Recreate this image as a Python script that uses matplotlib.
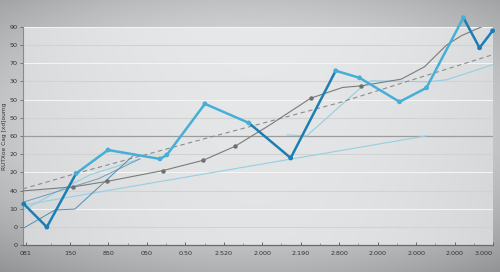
import matplotlib
matplotlib.use("Agg")
import matplotlib.pyplot as plt
import numpy as np

# tick labels as printed on the chart
x_labels = ["081", "150", "850", "050", "0.50", "2.520", "2.000", "2.190",
            "2.800", "2.000", "2.000", "2.000", "3.000"]
x_label_pos = [-0.14, 1, 2, 3, 4, 5, 6, 7, 8, 9, 10, 11, 12]
y_labels = ["0", "0", "10", "40", "20", "20", "60", "50", "50", "30", "70", "50", "90"]
y_label_pos = list(range(13))

# main series (thick, alternating dark / bright blue)
main_x = [-0.20, 0.40, 1.16, 1.99, 3.34, 3.52, 4.51, 5.65, 6.74, 7.91, 8.53, 9.57, 10.27, 11.23, 11.65, 11.99]
main_y = [2.26, 0.99, 3.94, 5.23, 4.74, 4.96, 7.77, 6.72, 4.79, 9.59, 9.20, 7.88, 8.65, 12.51, 10.85, 11.79]
main_dark = [1, 1, 0, 0, 0, 0, 0, 1, 1, 0, 0, 0, 0, 1, 1]   # per segment

# grey solid trend
grey_x = [-0.22, 1.08, 1.96, 3.42, 4.46, 5.29, 6.20, 7.26, 8.09, 8.58, 9.62, 10.22, 10.79, 11.18, 11.73]
grey_y = [2.98, 3.20, 3.50, 4.10, 4.66, 5.43, 6.61, 8.08, 8.67, 8.76, 9.13, 9.81, 11.00, 11.52, 12.03]
grey_mark = [1, 2, 3, 4, 5, 7, 9]

# grey dashed trend
dash_x = [-0.22, 1.16, 4.50, 8.00, 11.99]
dash_y = [3.09, 3.94, 5.85, 7.83, 10.47]

# long light-blue line
light_x = [-0.22, 10.27]
light_y = [2.20, 6.01]

# second light-blue line (right side)
light2_x = [6.64, 7.16, 8.53, 8.84, 10.27, 10.79, 11.99]
light2_y = [6.06, 6.01, 8.60, 9.04, 8.98, 9.09, 9.92]

# thin steel lines on the left
steel1_x = [-0.20, 0.61, 1.13, 2.69]
steel1_y = [0.94, 1.93, 1.98, 5.01]
steel2_x = [-0.20, 1.73, 2.82]
steel2_y = [2.37, 3.64, 4.74]
light3_x = [-0.20, 0.74, 1.52, 2.82]
light3_y = [1.93, 3.03, 3.86, 4.74]

DARK = "#1b7fb3"
BRIGHT = "#46afd7"
LIGHT = "#95cfe3"
STEEL = "#4f8db2"
GREY = "#7b7b7b"

fig = plt.figure(figsize=(5, 2.72), dpi=100)

# background gradient
bg = fig.add_axes([0, 0, 1, 1], zorder=-2)
gx, gy = np.meshgrid(np.linspace(-1, 1, 500), np.linspace(-1, 1, 272))
r = np.sqrt((gx * 0.85) ** 2 + ((gy + 0.1) * 1.0) ** 2)
val = 0.89 - 0.16 * np.clip(r, 0, 1.4) ** 2
bg.imshow(np.dstack([val * 0.985, val * 0.995, val * 1.0]).clip(0, 1), aspect="auto")
bg.axis("off")

ax = fig.add_axes([0.046, 0.099, 0.94, 0.802])
ax.set_xlim(-0.22, 11.99)
ax.set_ylim(0, 12)

# plot area panel
px, py = np.meshgrid(np.linspace(-1, 1, 300), np.linspace(0, 1, 100))
pv = 0.915 - 0.05 * px ** 2 - 0.02 * py
ax.imshow(np.dstack([pv * 0.99, pv * 0.995, pv]).clip(0, 1), aspect="auto",
          extent=[-0.22, 11.99, 0, 12], zorder=0)

for i in range(1, 13):
    c = "#9c9c9c" if i == 6 else ("#d2d2d2" if i % 2 else "#f4f4f4")
    ax.axhline(i, color=c, lw=0.9 if i == 6 else 0.8, zorder=1)

ax.plot(light_x, light_y, color=LIGHT, lw=0.8, zorder=2)
ax.plot(light2_x, light2_y, color=LIGHT, lw=0.8, zorder=2)
ax.plot(light3_x, light3_y, color=LIGHT, lw=0.8, zorder=2)
ax.plot(steel1_x, steel1_y, color=STEEL, lw=0.7, zorder=2)
ax.plot(steel2_x, steel2_y, color=STEEL, lw=0.7, alpha=0.8, zorder=2)
ax.plot(dash_x, dash_y, color="#8c8c8c", lw=0.8, ls=(0, (4, 3)), zorder=2)
ax.plot(grey_x, grey_y, color=GREY, lw=0.8, zorder=3)
ax.plot([grey_x[i] for i in grey_mark], [grey_y[i] for i in grey_mark], "o",
        color="#6f6f6f", ms=2.2, zorder=3)

for i in range(len(main_x) - 1):
    ax.plot(main_x[i:i + 2], main_y[i:i + 2], color=DARK if main_dark[i] else BRIGHT,
            lw=1.8, solid_capstyle="round", zorder=4, clip_on=False)
pt_col = [DARK if (main_dark[max(i - 1, 0)] and (i == len(main_x) - 1 or main_dark[min(i, len(main_dark) - 1)])) else BRIGHT
          for i in range(len(main_x))]
ax.scatter(main_x, main_y, s=12, c=pt_col, zorder=5, clip_on=False, linewidths=0)

for s in ["top", "right"]:
    ax.spines[s].set_visible(False)
ax.spines["left"].set_color("#8a8a8a")
ax.spines["left"].set_linewidth(0.8)
ax.spines["bottom"].set_color("#6a6a6a")
ax.spines["bottom"].set_linewidth(0.9)

ax.set_yticks(y_label_pos)
ax.set_yticklabels(y_labels)
ax.set_xticks(x_label_pos)
ax.set_xticklabels(x_labels)
ax.set_xticks(np.arange(0.5, 12, 0.5), minor=True)
ax.tick_params(axis="both", labelsize=4.6, colors="#555555", labelcolor="#333333")
ax.tick_params(axis="x", direction="in", length=2.5, width=0.6, pad=4)
ax.tick_params(axis="x", which="minor", direction="in", length=1.8, width=0.5, colors="#777777")
ax.tick_params(axis="y", direction="out", length=2, width=0.5, pad=2)
ax.get_xticklabels()[-1].set_horizontalalignment("right")

fig.text(0.010, 0.50, "RUTXoe Cag [xd]oumg", rotation=90, fontsize=4.2,
         color="#333333", ha="center", va="center")

fig.savefig("out.png", dpi=100)
